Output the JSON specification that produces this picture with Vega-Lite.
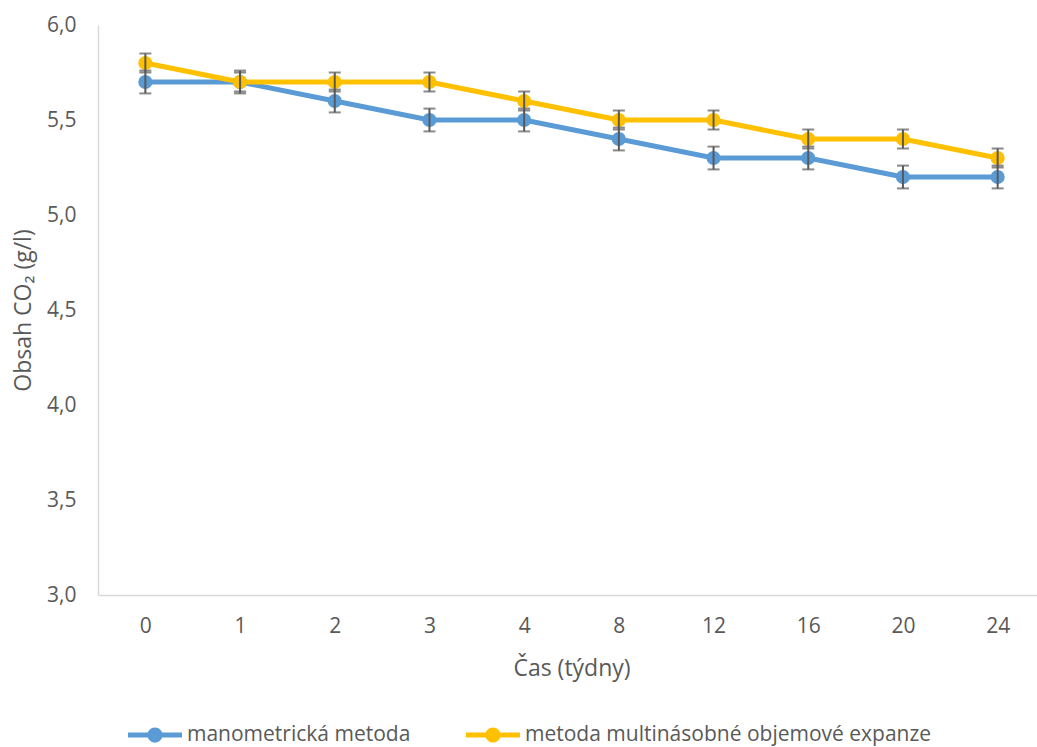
{
  "$schema": "https://vega.github.io/schema/vega-lite/v6.json",
  "autosize": "none",
  "width": 947,
  "height": 570,
  "padding": {"left": 98, "top": 25, "right": 0, "bottom": 152},
  "background": "white",
  "config": {
    "view": {"stroke": null},
    "font": "Open Sans",
    "axis": {"grid": false, "ticks": false, "domainColor": "#d9d9d9", "domainWidth": 1.5, "labelColor": "#595959", "titleColor": "#595959", "labelFont": "Open Sans", "titleFont": "Open Sans", "labelFontSize": 21, "titleFontSize": 23, "titleFontWeight": "normal"}
  },
  "data": {
    "values": [
      {"week": 0, "series": "manometrická metoda", "value": 5.7, "err": 0.06},
      {"week": 1, "series": "manometrická metoda", "value": 5.7, "err": 0.06},
      {"week": 2, "series": "manometrická metoda", "value": 5.6, "err": 0.06},
      {"week": 3, "series": "manometrická metoda", "value": 5.5, "err": 0.06},
      {"week": 4, "series": "manometrická metoda", "value": 5.5, "err": 0.06},
      {"week": 8, "series": "manometrická metoda", "value": 5.4, "err": 0.06},
      {"week": 12, "series": "manometrická metoda", "value": 5.3, "err": 0.06},
      {"week": 16, "series": "manometrická metoda", "value": 5.3, "err": 0.06},
      {"week": 20, "series": "manometrická metoda", "value": 5.2, "err": 0.06},
      {"week": 24, "series": "manometrická metoda", "value": 5.2, "err": 0.06},
      {"week": 0, "series": "metoda multinásobné objemové expanze", "value": 5.8, "err": 0.05},
      {"week": 1, "series": "metoda multinásobné objemové expanze", "value": 5.7, "err": 0.05},
      {"week": 2, "series": "metoda multinásobné objemové expanze", "value": 5.7, "err": 0.05},
      {"week": 3, "series": "metoda multinásobné objemové expanze", "value": 5.7, "err": 0.05},
      {"week": 4, "series": "metoda multinásobné objemové expanze", "value": 5.6, "err": 0.05},
      {"week": 8, "series": "metoda multinásobné objemové expanze", "value": 5.5, "err": 0.05},
      {"week": 12, "series": "metoda multinásobné objemové expanze", "value": 5.5, "err": 0.05},
      {"week": 16, "series": "metoda multinásobné objemové expanze", "value": 5.4, "err": 0.05},
      {"week": 20, "series": "metoda multinásobné objemové expanze", "value": 5.4, "err": 0.05},
      {"week": 24, "series": "metoda multinásobné objemové expanze", "value": 5.3, "err": 0.05}
    ]
  },
  "encoding": {
    "x": {"field": "week", "type": "ordinal", "scale": {"type": "point", "padding": 0.5},
      "axis": {"title": "Čas (týdny)", "labelAngle": 0, "labelPadding": 20, "titleY": 73, "titleBaseline": "middle"}},
    "y": {"field": "value", "type": "quantitative", "scale": {"domain": [3, 6], "nice": false, "zero": false},
      "axis": {"title": "Obsah CO₂ (g/l)", "values": [3, 3.5, 4, 4.5, 5, 5.5, 6], "labelExpr": "replace(format(datum.value, '.1f'), '.', ',')", "labelPadding": 22, "titleX": -75, "titleY": 285, "titleAngle": -90, "titleBaseline": "middle", "titleAlign": "center"}}
  },
  "layer": [
    {
      "mark": {"type": "line", "strokeWidth": 5},
      "encoding": {
        "color": {"field": "series", "type": "nominal",
          "scale": {"domain": ["manometrická metoda", "metoda multinásobné objemové expanze"], "range": ["#5B9BD5", "#FFC000"]},
          "legend": {"title": null, "orient": "none", "legendX": 30, "legendY": 683, "direction": "horizontal",
            "symbolType": "M-1,-0.09 L1,-0.09 L1,0.09 L-1,0.09 Z M0.28,0 A0.28,0.28 0 1,1 -0.28,0 A0.28,0.28 0 1,1 0.28,0 Z",
            "symbolSize": 2916, "symbolStrokeWidth": 0, "symbolOpacity": 1,
            "labelFont": "Open Sans", "labelFontSize": 21, "labelColor": "#595959", "labelOffset": 5, "columnPadding": 55, "labelLimit": 600,
            "encode": {"symbols": {"update": {"fill": {"scale": "color", "field": "value"}, "stroke": {"value": "transparent"}}}}}
        }
      }
    },
    {
      "mark": {"type": "point", "filled": true, "size": 200, "opacity": 1},
      "encoding": {"color": {"field": "series", "type": "nominal"}}
    },
    {
      "mark": {"type": "errorbar", "ticks": {"size": 12, "thickness": 2, "color": "#595959"}, "rule": {"strokeWidth": 2, "color": "#595959"}, "color": "#595959"},
      "encoding": {"yError": {"field": "err"}, "detail": {"field": "series"}}
    }
  ]
}
